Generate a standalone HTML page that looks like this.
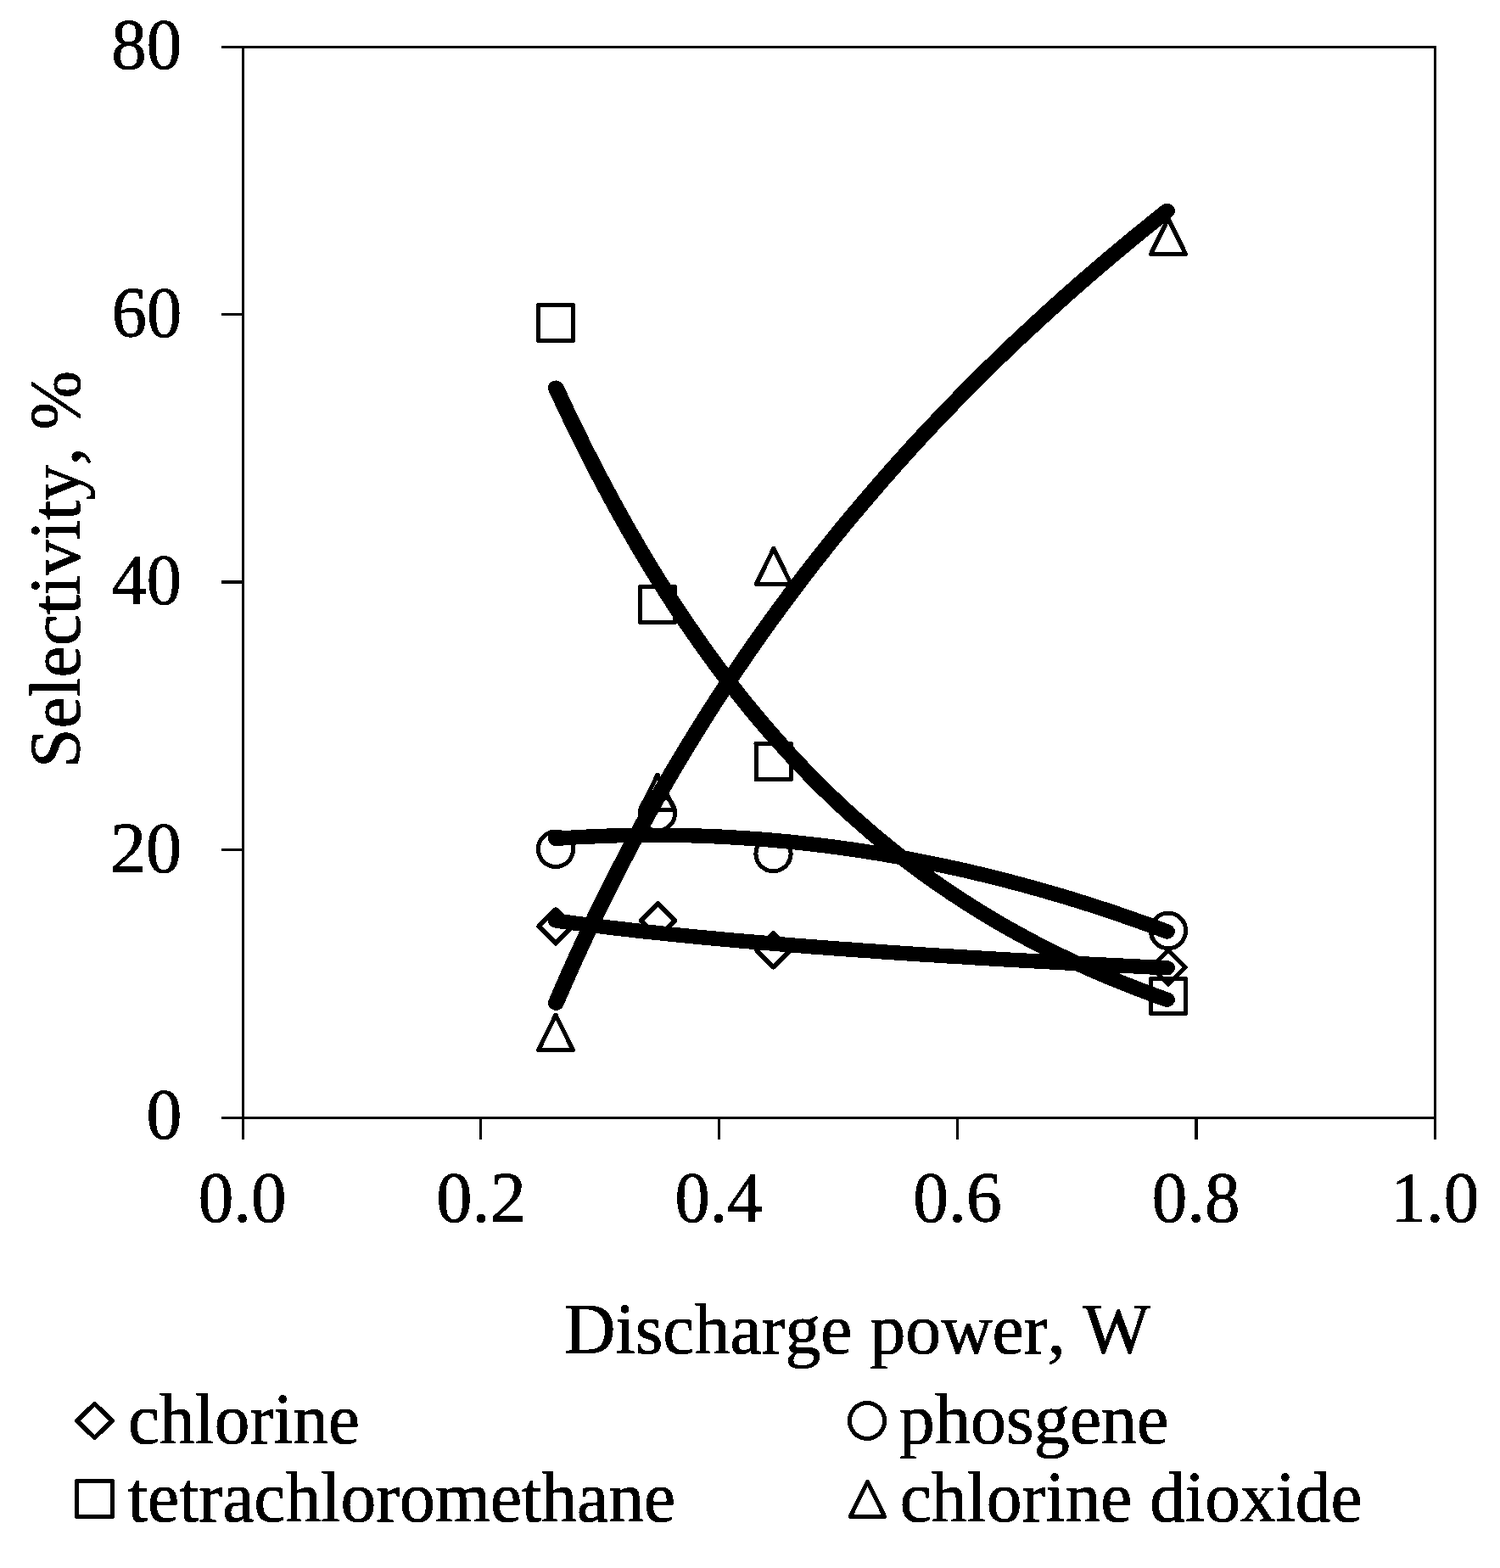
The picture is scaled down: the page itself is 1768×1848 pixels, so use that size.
<!DOCTYPE html>
<html lang="en">
<head>
<meta charset="utf-8">
<title>Selectivity vs discharge power</title>
<style>
html,body{margin:0;padding:0;background:#fff;}
body{width:1768px;height:1848px;overflow:hidden;}
svg{display:block;}
text{font-family:"Liberation Serif","DejaVu Serif",serif;fill:#000;font-kerning:none;font-variant-ligatures:none;}
</style>
</head>
<body>
<svg width="1768" height="1848" viewBox="0 0 1768 1848">
<defs><filter id="bw" x="0" y="0" width="1768" height="1848" filterUnits="userSpaceOnUse" primitiveUnits="userSpaceOnUse" color-interpolation-filters="sRGB"><feComponentTransfer><feFuncA type="discrete" tableValues="0 1"/></feComponentTransfer></filter></defs>
<rect x="0" y="0" width="1768" height="1848" fill="#fff"/>
<g fill="#000" shape-rendering="crispEdges">
<rect x="261" y="54" width="1432" height="3"/>
<rect x="261" y="1316" width="1432" height="3"/>
<rect x="285" y="54" width="3" height="1289"/>
<rect x="1690" y="54" width="3" height="1289"/>
<rect x="261" y="369" width="26" height="3"/>
<rect x="261" y="684" width="26" height="4"/>
<rect x="261" y="1000" width="26" height="3"/>
<rect x="565" y="1317" width="3" height="26"/>
<rect x="846" y="1317" width="3" height="26"/>
<rect x="1127" y="1317" width="3" height="26"/>
<rect x="1408" y="1317" width="4" height="26"/>
</g>
<g fill="none" stroke="#000" stroke-linejoin="round" shape-rendering="crispEdges">
<rect x="634.5" y="359.5" width="41" height="42" stroke-width="5"/>
<rect x="754.5" y="691.5" width="41" height="42" stroke-width="5"/>
<rect x="891" y="876.5" width="41.5" height="42" stroke-width="5"/>
<rect x="1356.5" y="1153.5" width="41" height="41" stroke-width="5"/>
<path d="M655 1196.3L675.4 1237.6L634.6 1237.6Z" stroke-width="5.2"/>
<path d="M775 913.3L795.4 954.6L754.6 954.6Z" stroke-width="5.2"/>
<path d="M911.9 646.4L932.3 688.3L891.5 688.3Z" stroke-width="5.2"/>
<path d="M1377 257.6L1397.4 299.2L1356.6 299.2Z" stroke-width="5.2"/>
<ellipse cx="655" cy="1000.8" rx="20.6" ry="20.8" stroke-width="5"/>
<ellipse cx="775" cy="958.2" rx="20.6" ry="20.8" stroke-width="5"/>
<ellipse cx="911.5" cy="1006" rx="20.6" ry="20.8" stroke-width="5"/>
<ellipse cx="1377" cy="1096.9" rx="20.6" ry="20.8" stroke-width="5"/>
<path d="M655 1071.8L675 1091.8L655 1111.8L635 1091.8Z" stroke-width="5.4"/>
<path d="M775.5 1064.8L795.5 1084.8L775.5 1104.8L755.5 1084.8Z" stroke-width="5.4"/>
<path d="M911.5 1099.7L931.5 1119.7L911.5 1139.7L891.5 1119.7Z" stroke-width="5.4"/>
<path d="M1377 1120L1397 1140L1377 1160L1357 1140Z" stroke-width="5.4"/>
<path d="M111.5 1654.6L132.4 1674.5L111.5 1694.4L90.6 1674.5Z" stroke-width="5.4"/>
<rect x="90.5" y="1745.5" width="42" height="42" stroke-width="5"/>
<ellipse cx="1022" cy="1674.5" rx="20.6" ry="20.95" stroke-width="5"/>
<path d="M1022.5 1746.1L1042.6 1787.3L1002.4 1787.3Z" stroke-width="5"/>
</g>
<g transform="scale(1.09 1)" fill="none" stroke="#000" stroke-width="17.4" stroke-linecap="round" stroke-linejoin="round" shape-rendering="crispEdges">
<path d="M601.2 457.2L612.2 482.9L623.2 507.8L634.2 532.0L645.2 555.5L656.3 578.3L667.3 600.4L678.3 621.8L689.3 642.6L700.3 662.8L711.3 682.3L722.3 701.3L733.3 719.8L744.4 737.6L755.4 755.0L766.4 771.8L777.4 788.1L788.4 803.9L799.4 819.3L810.4 834.2L821.4 848.6L832.4 862.6L843.5 876.2L854.5 889.4L865.5 902.2L876.5 914.6L887.5 926.7L898.5 938.3L909.5 949.7L920.5 960.7L931.6 971.3L942.6 981.7L953.6 991.7L964.6 1001.5L975.6 1010.9L986.6 1020.1L997.6 1029.0L1008.6 1037.6L1019.7 1046.0L1030.7 1054.1L1041.7 1061.9L1052.7 1069.6L1063.7 1077.0L1074.7 1084.2L1085.7 1091.2L1096.7 1097.9L1107.8 1104.5L1118.8 1110.9L1129.8 1117.0L1140.8 1123.0L1151.8 1128.8L1162.8 1134.5L1173.8 1139.9L1184.8 1145.3L1195.9 1150.4L1206.9 1155.4L1217.9 1160.2L1228.9 1164.9L1239.9 1169.5L1250.9 1173.9L1261.9 1178.2"/>
<path d="M601.2 1182.1L612.2 1154.5L623.2 1127.7L634.2 1101.8L645.2 1076.6L656.3 1052.1L667.3 1028.3L678.3 1005.2L689.3 982.6L700.3 960.6L711.3 939.2L722.3 918.3L733.3 897.9L744.4 877.9L755.4 858.4L766.4 839.3L777.4 820.7L788.4 802.4L799.4 784.6L810.4 767.0L821.4 749.9L832.4 733.1L843.5 716.5L854.5 700.3L865.5 684.4L876.5 668.8L887.5 653.5L898.5 638.4L909.5 623.6L920.5 609.1L931.6 594.8L942.6 580.7L953.6 566.8L964.6 553.2L975.6 539.8L986.6 526.5L997.6 513.5L1008.6 500.7L1019.7 488.1L1030.7 475.6L1041.7 463.3L1052.7 451.2L1063.7 439.3L1074.7 427.5L1085.7 415.9L1096.7 404.4L1107.8 393.1L1118.8 382.0L1129.8 370.9L1140.8 360.1L1151.8 349.3L1162.8 338.7L1173.8 328.2L1184.8 317.9L1195.9 307.6L1206.9 297.5L1217.9 287.5L1228.9 277.6L1239.9 267.9L1250.9 258.2L1261.9 248.6"/>
<path d="M601.2 988.4L612.2 987.6L623.2 986.8L634.2 986.2L645.2 985.7L656.3 985.2L667.3 984.8L678.3 984.5L689.3 984.3L700.3 984.2L711.3 984.2L722.3 984.3L733.3 984.5L744.4 984.7L755.4 985.1L766.4 985.5L777.4 986.0L788.4 986.7L799.4 987.4L810.4 988.2L821.4 989.0L832.4 990.0L843.5 991.1L854.5 992.2L865.5 993.5L876.5 994.8L887.5 996.2L898.5 997.7L909.5 999.3L920.5 1001.0L931.6 1002.8L942.6 1004.7L953.6 1006.6L964.6 1008.7L975.6 1010.8L986.6 1013.0L997.6 1015.4L1008.6 1017.8L1019.7 1020.3L1030.7 1022.9L1041.7 1025.5L1052.7 1028.3L1063.7 1031.2L1074.7 1034.1L1085.7 1037.1L1096.7 1040.3L1107.8 1043.5L1118.8 1046.8L1129.8 1050.2L1140.8 1053.7L1151.8 1057.2L1162.8 1060.9L1173.8 1064.6L1184.8 1068.5L1195.9 1072.4L1206.9 1076.4L1217.9 1080.6L1228.9 1084.8L1239.9 1089.0L1250.9 1093.4L1261.9 1097.9"/>
<path d="M601.2 1085.0L612.2 1086.7L623.2 1088.3L634.2 1089.8L645.2 1091.3L656.3 1092.8L667.3 1094.2L678.3 1095.6L689.3 1097.0L700.3 1098.3L711.3 1099.5L722.3 1100.8L733.3 1102.0L744.4 1103.2L755.4 1104.4L766.4 1105.5L777.4 1106.6L788.4 1107.7L799.4 1108.8L810.4 1109.8L821.4 1110.8L832.4 1111.8L843.5 1112.8L854.5 1113.8L865.5 1114.7L876.5 1115.7L887.5 1116.6L898.5 1117.5L909.5 1118.4L920.5 1119.2L931.6 1120.1L942.6 1120.9L953.6 1121.8L964.6 1122.6L975.6 1123.4L986.6 1124.2L997.6 1125.0L1008.6 1125.7L1019.7 1126.5L1030.7 1127.2L1041.7 1127.9L1052.7 1128.7L1063.7 1129.4L1074.7 1130.1L1085.7 1130.8L1096.7 1131.5L1107.8 1132.1L1118.8 1132.8L1129.8 1133.5L1140.8 1134.1L1151.8 1134.8L1162.8 1135.4L1173.8 1136.0L1184.8 1136.6L1195.9 1137.2L1206.9 1137.8L1217.9 1138.4L1228.9 1139.0L1239.9 1139.6L1250.9 1140.2L1261.9 1140.8"/>
</g>
<g stroke="#000" stroke-width="0.9" stroke-linejoin="round" filter="url(#bw)">
<text transform="translate(131.26 80.60) scale(0.9800 1)" font-size="84.6">80</text>
<text transform="translate(131.65 396.60) scale(0.9752 1)" font-size="84.6">60</text>
<text transform="translate(131.60 711.60) scale(0.9758 1)" font-size="84.6">40</text>
<text transform="translate(129.88 1027.70) scale(0.9970 1)" font-size="84.6">20</text>
<text transform="translate(172.60 1342.40) scale(0.9907 1)" font-size="84.6">0</text>
<text transform="translate(233.73 1440.30) scale(0.9820 1)" font-size="84.6">0.0</text>
<text transform="translate(514.37 1440.30) scale(0.9991 1)" font-size="84.6">0.2</text>
<text transform="translate(795.55 1440.30) scale(0.9744 1)" font-size="84.6">0.4</text>
<text transform="translate(1076.31 1440.30) scale(0.9877 1)" font-size="84.6">0.6</text>
<text transform="translate(1357.73 1440.30) scale(0.9820 1)" font-size="84.6">0.8</text>
<text transform="translate(1639.53 1440.30) scale(0.9800 1)" font-size="84.6">1.0</text>
<text transform="translate(665.04 1594.60) scale(1.0018 1)" font-size="83.6">Discharge power, W</text>
<text transform="translate(151.02 1700.80) scale(0.9962 1)" font-size="83.6">chlorine</text>
<text transform="translate(1059.87 1700.80) scale(1.0055 1)" font-size="83.6">phosgene</text>
<text transform="translate(150.81 1793.10) scale(1.0001 1)" font-size="83.6">tetrachloromethane</text>
<text transform="translate(1060.71 1793.10) scale(0.9990 1)" font-size="83.6">chlorine dioxide</text>
<text transform="translate(93.80 904.99) rotate(-90) scale(0.9982 1)" font-size="83.6">Selectivity, %</text>
</g>
</svg>
</body>
</html>
